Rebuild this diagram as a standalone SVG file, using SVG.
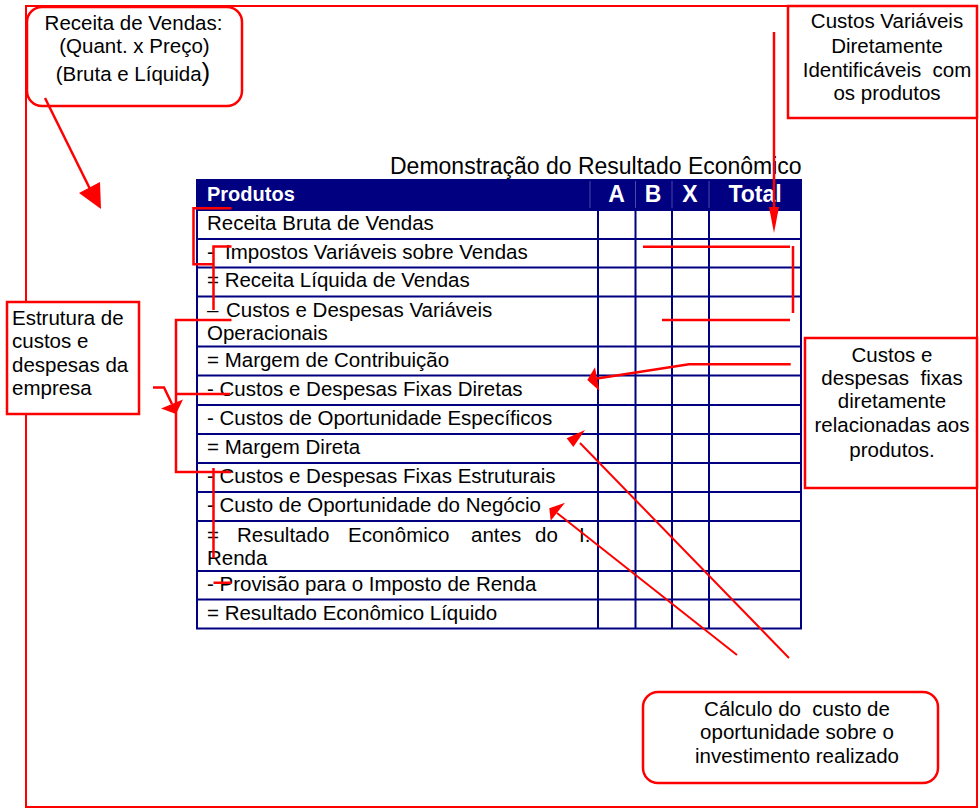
<svg xmlns="http://www.w3.org/2000/svg" width="979" height="809" viewBox="0 0 979 809">
<style>
text{font-family:"Liberation Sans",Arial,sans-serif;font-size:20.5px;fill:#000}
.c{text-anchor:middle}
.hd{font-weight:bold;fill:#fff;font-size:20px}
.hc{font-size:23px}
.title{font-size:23px}
.box{fill:#fff;stroke:#f00;stroke-width:2.5}
.grid{stroke:#000080;stroke-width:2;fill:none}
.faint{stroke:#4a4aa8;stroke-width:1}
.red{stroke:#f00;stroke-width:2.5;fill:none}
.redt{stroke:#f00;stroke-width:2;fill:none}
.ah{fill:#f00;stroke:none}
</style>
<rect width="979" height="809" fill="#fff"/>
<g id="frame"><rect x="26" y="6" width="951" height="801" fill="none" stroke="#f00" stroke-width="2"/></g>

<g id="table">
<text class="title" x="390" y="174">Demonstração do Resultado Econômico</text>
<rect x="197" y="179" width="604" height="31" fill="#000080"/>
<line class="faint" x1="590" y1="181" x2="590" y2="208"/>
<line class="faint" x1="635.5" y1="181" x2="635.5" y2="208"/>
<line class="faint" x1="672" y1="181" x2="672" y2="208"/>
<line class="faint" x1="709" y1="181" x2="709" y2="208"/>
<text class="hd" x="207" y="201">Produtos</text>
<text class="hd hc c" x="616.5" y="202">A</text>
<text class="hd hc c" x="653" y="202">B</text>
<text class="hd hc c" x="690" y="202">X</text>
<text class="hd hc c" x="755" y="202">Total</text>
<path class="grid" d="M197,179V628.5H801V179M197,210H801M197,239H801M197,267.5H801M197,296.5H801M197,346.5H801M197,375.5H801M197,405H801M197,434H801M197,463H801M197,492H801M197,521H801M197,571H801M197,599.5H801M598,210V628.5M635.5,210V628.5M672,210V628.5M709,210V628.5"/>
<text x="207" y="230">Receita Bruta de Vendas</text>
<text x="207" y="259">-<tspan x="225">Impostos Variáveis sobre Vendas</tspan></text>
<text x="207" y="287">= Receita Líquida de Vendas</text>
<text x="207" y="317">–<tspan x="226">Custos e Despesas Variáveis</tspan></text>
<text x="207" y="340">Operacionais</text>
<text x="207" y="367">= Margem de Contribuição</text>
<text x="207" y="396">- Custos e Despesas Fixas Diretas</text>
<text x="207" y="425">- Custos de Oportunidade Específicos</text>
<text x="207" y="454">= Margem Direta</text>
<text x="207" y="483">- Custos e Despesas Fixas Estruturais</text>
<text x="207" y="512">- Custo de Oportunidade do Negócio</text>
<text x="207" y="542">=<tspan x="237">Resultado</tspan><tspan x="348">Econômico</tspan><tspan x="471">antes</tspan><tspan x="535">do</tspan><tspan x="579">I.</tspan></text>
<text x="207" y="564.5">Renda</text>
<text x="207" y="591">- Provisão para o Imposto de Renda</text>
<text x="207" y="620">= Resultado Econômico Líquido</text>
</g>

<g id="box-receita">
<rect class="box" x="27" y="7" width="215" height="99" rx="15"/>
<text class="c" x="133.5" y="30">Receita de Vendas:</text>
<text class="c" x="134.5" y="53">(Quant. x Preço)</text>
<text class="c" x="133" y="81">(Bruta e Líquida<tspan font-size="26">)</tspan></text>
</g>

<g id="box-custos-variaveis">
<rect class="box" x="788" y="6" width="189" height="112"/>
<text class="c" x="887" y="28">Custos Variáveis</text>
<text class="c" x="887" y="53">Diretamente</text>
<text class="c" x="887" y="77" xml:space="preserve">Identificáveis  com</text>
<text class="c" x="887" y="100">os produtos</text>
</g>

<g id="box-estrutura">
<rect class="box" x="7" y="302" width="132" height="112"/>
<text x="12" y="325">Estrutura de</text>
<text x="12" y="348">custos e</text>
<text x="12" y="372">despesas da</text>
<text x="12" y="395">empresa</text>
</g>

<g id="box-fixas">
<rect class="box" x="805" y="338" width="172" height="150"/>
<text class="c" x="892" y="362">Custos e</text>
<text class="c" x="892" y="385" xml:space="preserve">despesas  fixas</text>
<text class="c" x="892" y="408">diretamente</text>
<text class="c" x="892" y="432">relacionadas aos</text>
<text class="c" x="892" y="457">produtos.</text>
</g>

<g id="box-calculo">
<rect class="box" x="643" y="692" width="295" height="91" rx="15"/>
<text class="c" x="797" y="716" xml:space="preserve">Cálculo do  custo de</text>
<text class="c" x="797" y="739">oportunidade sobre o</text>
<text class="c" x="797" y="763">investimento realizado</text>
</g>

<g id="connectors">
<line class="red" x1="45" y1="98" x2="91" y2="191"/>
<polygon class="ah" points="79,193 100,182 101,209"/>
<line class="red" x1="774" y1="32" x2="774" y2="210"/>
<polygon class="ah" points="769,207 779,207 774,233"/>
<path class="red" d="M231.5,208.3H193.5V264.3H213.5"/>
<path class="red" d="M231.5,246.5H213.5V310"/>
<path class="red" d="M643,246.7H790M793,246V313M662,320H790"/>
<path class="red" d="M231.5,320H176V472H231M176,394H230"/>
<path class="red" d="M213.5,468V558M213.5,582.7H231.5"/>
<polyline class="red" points="153,387.5 164,387.5 172,404"/>
<polygon class="ah" points="161,408.5 183,399.5 176,414"/>
<polyline class="red" points="790.7,364.3 689,364.3 597,378.5"/>
<polygon class="ah" points="587.3,380 595,367.3 599.3,390.7"/>
<line class="redt" x1="789" y1="658" x2="580" y2="443"/>
<polygon class="ah" points="566.7,438.3 585,430 573.3,447"/>
<line class="redt" x1="737" y1="655" x2="557" y2="513"/>
<polygon class="ah" points="549.3,508.3 565,502.7 550.7,520.7"/>
</g>
</svg>
